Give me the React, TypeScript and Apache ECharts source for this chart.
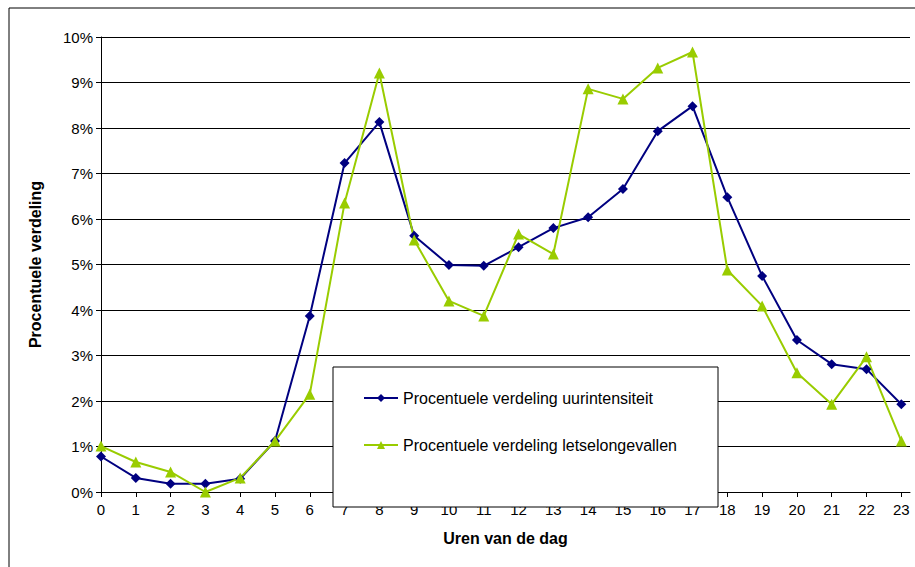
import { useEffect, useRef } from "react";
import * as echarts from "echarts";

const HOURS = Array.from({ length: 24 }, (_, i) => i);
const INTENSITY = [0.78, 0.31, 0.18, 0.18, 0.29, 1.12, 3.87, 7.23, 8.13, 5.63, 4.99, 4.97, 5.38, 5.8, 6.04, 6.66, 7.93, 8.48, 6.48, 4.75, 3.34, 2.81, 2.7, 1.93];
const ACCIDENTS = [1.01, 0.66, 0.44, 0.0, 0.31, 1.12, 2.15, 6.35, 9.21, 5.54, 4.2, 3.87, 5.67, 5.23, 8.86, 8.64, 9.32, 9.67, 4.88, 4.09, 2.62, 1.93, 2.97, 1.12];

const NAVY = "#000080";
const LIME = "#99CC00";

export default function App() {
  const ref = useRef<HTMLDivElement>(null);

  useEffect(() => {
    if (!ref.current) return;
    const chart = echarts.init(ref.current, undefined, { renderer: "svg" });
    chart.setOption({
      animation: false,
      textStyle: { fontFamily: "Liberation Sans, Arial, sans-serif", color: "#000" },
      graphic: [
        { type: "rect", shape: { x: 9, y: 8, width: 920, height: 570 }, style: { fill: "none", stroke: "#000", lineWidth: 1 }, z: -1 },
        { type: "rect", shape: { x: 333, y: 367, width: 385, height: 140 }, style: { fill: "#fff", stroke: "#000", lineWidth: 1 }, z: 10 },
      ],
      grid: { left: 101, right: 5, top: 37, bottom: 75 },
      legend: {
        orient: "vertical",
        left: 358,
        top: 385,
        itemGap: 31,
        itemWidth: 34,
        itemHeight: 10,
        z: 20,
        textStyle: { fontSize: 16, color: "#000" },
      },
      xAxis: {
        type: "value",
        min: 0,
        max: 23.25,
        interval: 1,
        name: "Uren van de dag",
        nameLocation: "middle",
        nameGap: 38,
        nameTextStyle: { fontSize: 16, fontWeight: "bold", color: "#000" },
        axisLine: { lineStyle: { color: "#000" } },
        axisTick: { lineStyle: { color: "#000" } },
        axisLabel: { color: "#000", fontSize: 15, margin: 10, showMaxLabel: false },
        splitLine: { show: false },
      },
      yAxis: {
        type: "value",
        min: 0,
        max: 10,
        interval: 1,
        name: "Procentuele verdeling",
        nameLocation: "middle",
        nameGap: 58,
        nameTextStyle: { fontSize: 16, fontWeight: "bold", color: "#000" },
        axisLine: { show: true, lineStyle: { color: "#000" } },
        axisTick: { show: true, lineStyle: { color: "#000" } },
        axisLabel: { color: "#000", fontSize: 15, formatter: "{value}%" },
        splitLine: { lineStyle: { color: "#000", width: 1 } },
      },
      series: [
        {
          name: "Procentuele verdeling uurintensiteit",
          type: "line",
          data: HOURS.map((h, i) => [h, INTENSITY[i]]),
          symbol: "diamond",
          symbolSize: 10,
          itemStyle: { color: NAVY },
          lineStyle: { color: NAVY, width: 2 },
        },
        {
          name: "Procentuele verdeling letselongevallen",
          type: "line",
          data: HOURS.map((h, i) => [h, ACCIDENTS[i]]),
          symbol: "triangle",
          symbolSize: 11,
          itemStyle: { color: LIME },
          lineStyle: { color: LIME, width: 2 },
        },
      ],
    });
    return () => chart.dispose();
  }, []);

  return <div ref={ref} style={{ position: "fixed", left: 0, top: 0, width: 915, height: 567, background: "#fff" }} />;
}
